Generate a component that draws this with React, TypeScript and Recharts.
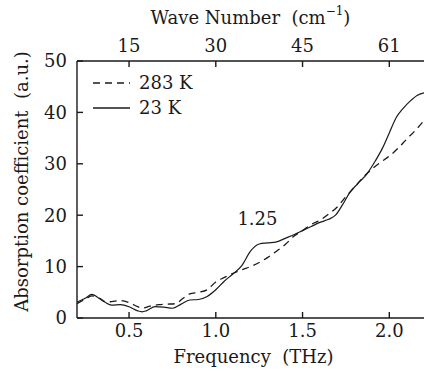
import React from 'react';
import { LineChart, Line, XAxis, YAxis, ReferenceDot } from 'recharts';

// 23 K (solid)
const freq23 = [0.2, 0.25, 0.285, 0.32, 0.36, 0.4, 0.45, 0.5, 0.55, 0.575, 0.6, 0.65, 0.7, 0.75, 0.8, 0.85, 0.9, 0.95, 1.0, 1.05, 1.1, 1.15, 1.2, 1.25, 1.3, 1.35, 1.4, 1.45, 1.5, 1.55, 1.6, 1.65, 1.69, 1.73, 1.77, 1.82, 1.87, 1.92, 1.96, 2.0, 2.04, 2.08, 2.12, 2.16, 2.2];
const abs23 = [3.1, 3.9, 4.6, 4.0, 3.1, 2.5, 2.6, 2.2, 1.4, 1.2, 1.4, 2.2, 2.1, 1.9, 2.7, 3.5, 3.6, 4.2, 5.5, 7.2, 8.6, 10.2, 13.0, 14.4, 14.6, 14.8, 15.5, 16.2, 17.0, 17.8, 18.6, 19.2, 20.0, 22.0, 24.3, 26.2, 28.0, 30.6, 33.0, 36.0, 39.0, 40.8, 42.2, 43.3, 43.8];

// 283 K (dashed)
const freq283 = [0.2, 0.25, 0.285, 0.33, 0.37, 0.4, 0.45, 0.5, 0.55, 0.575, 0.62, 0.67, 0.72, 0.77, 0.81, 0.85, 0.9, 0.95, 1.0, 1.05, 1.1, 1.15, 1.2, 1.25, 1.3, 1.35, 1.4, 1.45, 1.5, 1.55, 1.6, 1.65, 1.7, 1.75, 1.8, 1.85, 1.9, 1.95, 2.0, 2.05, 2.1, 2.15, 2.2];
const abs283 = [2.8, 3.7, 4.3, 3.8, 3.1, 3.2, 3.4, 3.0, 2.2, 1.9, 2.3, 2.6, 2.7, 2.8, 3.8, 4.7, 5.0, 5.5, 7.0, 7.9, 8.7, 9.4, 10.0, 10.8, 11.8, 13.0, 14.3, 15.9, 17.0, 18.2, 19.0, 20.2, 21.6, 23.6, 25.5, 27.4, 29.0, 30.3, 31.5, 33.0, 34.8, 36.5, 38.4];

const freqTicks = [0.5, 1.0, 1.5, 2.0];
const waveNumberLabels = ['15', '30', '45', '61'];
const yTicks = [0, 10, 20, 30, 40, 50];
const yMinorTicks = [0, 5, 10, 15, 20, 25, 30, 35, 40, 45, 50];
const seriesNames = ['283 K', '23 K'];
const annotation = { x: 1.24, y: 19.4, text: '1.25' };

const data23 = freq23.map((f, i) => ({ f, v: abs23[i] }));
const data283 = freq283.map((f, i) => ({ f, v: abs283[i] }));

const FONT = '"DejaVu Serif", serif';
const INK = '#1a1a1a';
const FS = 18;
const SP = '\u00A0\u00A0';

const YLabel = (props: any) => {
  const vb = props.viewBox || {};
  const cx = vb.x + 21;
  const cy = vb.y + vb.height / 2 - 8;
  return (
    <text x={cx} y={cy} transform={`rotate(-90 ${cx} ${cy})`} textAnchor="middle" dominantBaseline="central"
      fontFamily={FONT} fontSize={FS} fill={INK}>
      {`Absorption coefficient${SP}(a.u.)`}
    </text>
  );
};

const TopLabel = (props: any) => {
  const vb = props.viewBox || {};
  const cx = vb.x + vb.width / 2;
  return (
    <text x={cx} y={17} textAnchor="middle" dominantBaseline="central" fontFamily={FONT} fontSize={FS} fill={INK}>
      {`Wave Number${SP}(cm`}<tspan dy={-6} fontSize={12}>−1</tspan><tspan dy={6}>)</tspan>
    </text>
  );
};

const BottomLabel = (props: any) => {
  const vb = props.viewBox || {};
  const cx = vb.x + vb.width / 2 + 3;
  return (
    <text x={cx} y={356} textAnchor="middle" dominantBaseline="central" fontFamily={FONT} fontSize={FS} fill={INK}>
      {`Frequency${SP}(THz)`}
    </text>
  );
};

const LegendBox = () => (
  <div style={{ position: 'absolute', left: 92, top: 70, fontFamily: FONT, fontSize: FS, color: INK, lineHeight: '25px', pointerEvents: 'none' }}>
    {seriesNames.map((n, i) => (
      <div key={n} style={{ display: 'flex', alignItems: 'center', height: 25 }}>
        <svg width={47} height={25} style={{ display: 'block' }}>
          <line x1={1} x2={38} y1={13} y2={13} stroke={INK} strokeWidth={1.3} strokeDasharray={i === 0 ? '7 5' : undefined} />
        </svg>
        <span>{n}</span>
      </div>
    ))}
  </div>
);

export default function App() {
  return (
    <div style={{ position: 'absolute', left: 0, top: 0, width: 428, height: 371, background: '#fff' }}>
      <LineChart width={428} height={371} margin={{ top: 0, right: 4, bottom: 0, left: 0 }}>
        <XAxis xAxisId="b" type="number" dataKey="f" domain={[0.2, 2.2]} ticks={freqTicks} allowDataOverflow
          orientation="bottom" height={53} tickSize={-6} tickMargin={12}
          tickFormatter={(v: number) => v.toFixed(1)}
          tick={{ fontFamily: FONT, fontSize: FS, fill: INK }}
          stroke={INK} strokeWidth={1.4} label={<BottomLabel />} />
        <XAxis xAxisId="t" type="number" dataKey="f" domain={[0.2, 2.2]} ticks={freqTicks} allowDataOverflow
          orientation="top" height={61} tickSize={-6} tickMargin={15}
          tickFormatter={(v: number) => waveNumberLabels[freqTicks.indexOf(v)] ?? ''}
          tick={{ fontFamily: FONT, fontSize: FS, fill: INK }}
          stroke={INK} strokeWidth={1.4} label={<TopLabel />} />
        <YAxis yAxisId="l" type="number" domain={[0, 50]} ticks={yTicks} allowDataOverflow
          orientation="left" width={77} tickSize={-6} tickMargin={16}
          tick={{ fontFamily: FONT, fontSize: FS, fill: INK }}
          stroke={INK} strokeWidth={1.4} label={<YLabel />} />
        <YAxis yAxisId="r" type="number" domain={[0, 50]} ticks={yMinorTicks} allowDataOverflow
          orientation="right" width={0} tickSize={-3} tickMargin={0} tick={false}
          stroke={INK} strokeWidth={1.4} />
        <Line xAxisId="b" yAxisId="l" data={data283} dataKey="v" name={seriesNames[0]} type="monotone"
          stroke={INK} strokeWidth={1.3} strokeDasharray="7 5" dot={false} isAnimationActive={false} />
        <Line xAxisId="b" yAxisId="l" data={data23} dataKey="v" name={seriesNames[1]} type="monotone"
          stroke={INK} strokeWidth={1.2} dot={false} isAnimationActive={false} />
        <ReferenceDot xAxisId="b" yAxisId="l" x={annotation.x} y={annotation.y} r={0} fill="none" stroke="none"
          label={{ value: annotation.text, position: 'center', fontFamily: FONT, fontSize: FS, fill: INK }} />
      </LineChart>
      <LegendBox />
    </div>
  );
}
